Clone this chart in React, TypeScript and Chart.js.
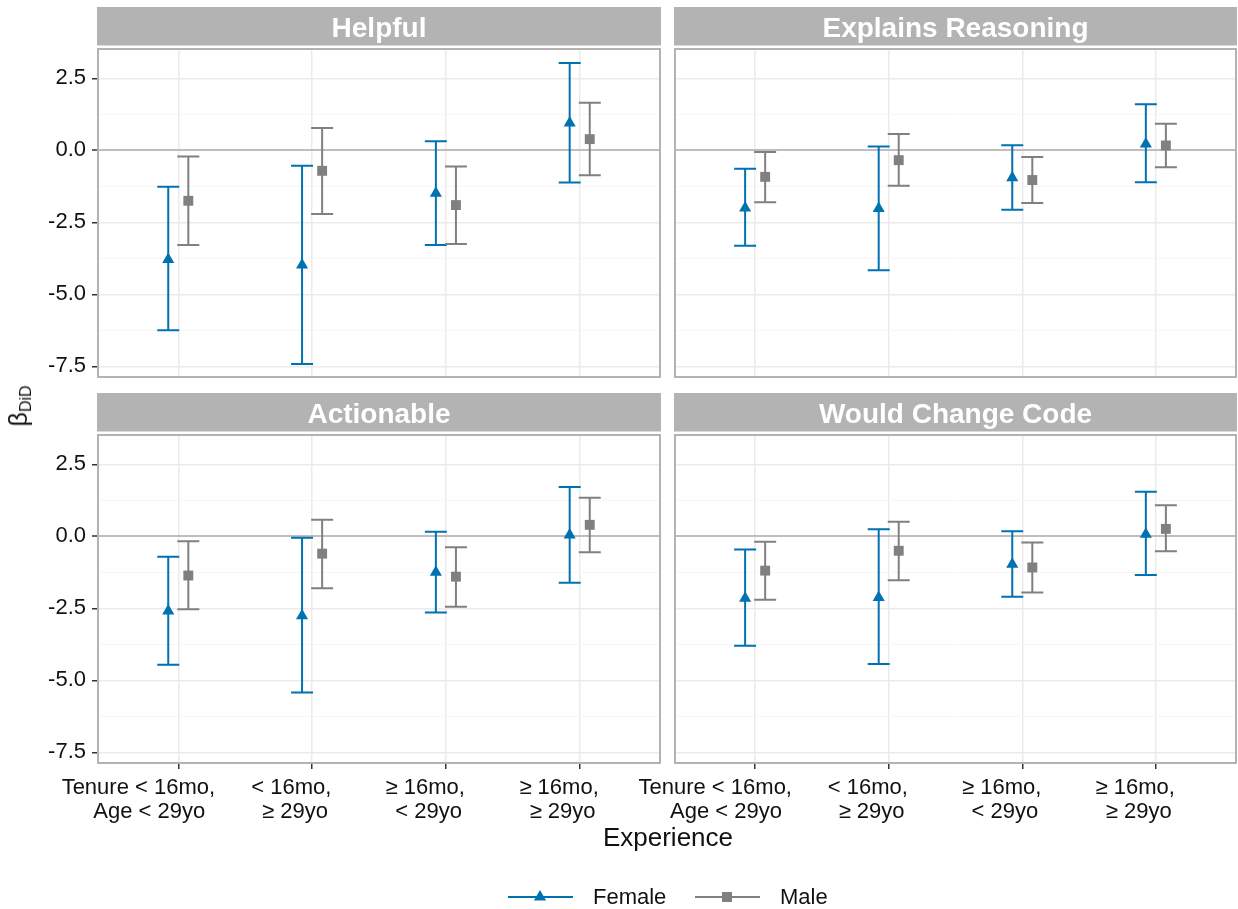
import React, { useEffect, useRef } from "react";
import { Chart, registerables } from "chart.js";

Chart.register(...registerables);

const FONT = "'Liberation Sans', Arial, Helvetica, sans-serif";
const BLUE = "#0072B2";
const GREY = "#808080";
const TEXT = "#111111";

// Categories (x axis)
const categoryPositions = [1, 2, 3, 4];
const categoryLabels = [
  ["Tenure < 16mo,", "Age < 29yo"],
  ["< 16mo,", "≥ 29yo"],
  ["≥ 16mo,", "< 29yo"],
  ["≥ 16mo,", "≥ 29yo"],
];
const dodge = 0.075;
const labelHjust = 0.76;

// Y axis
const yMin = -7.87;
const yMax = 3.52;
const yMajorTicks = [-7.5, -5, -2.5, 0, 2.5];
const yMajorLabels = ["-7.5", "-5.0", "-2.5", "0.0", "2.5"];
const yMinorTicks = [-6.25, -3.75, -1.25, 1.25];

// Helpful
const helpfulFemaleEst = [-3.79, -3.98, -1.49, 0.95];
const helpfulFemaleLo = [-6.25, -7.42, -3.29, -1.12];
const helpfulFemaleHi = [-1.26, -0.53, 0.32, 3.03];
const helpfulMaleEst = [-1.75, -0.71, -1.9, 0.39];
const helpfulMaleLo = [-3.29, -2.21, -3.25, -0.86];
const helpfulMaleHi = [-0.21, 0.78, -0.56, 1.65];

// Explains Reasoning
const reasoningFemaleEst = [-2.0, -2.02, -0.95, 0.22];
const reasoningFemaleLo = [-3.31, -4.16, -2.06, -1.11];
const reasoningFemaleHi = [-0.64, 0.13, 0.18, 1.6];
const reasoningMaleEst = [-0.92, -0.34, -1.03, 0.17];
const reasoningMaleLo = [-1.8, -1.23, -1.83, -0.59];
const reasoningMaleHi = [-0.06, 0.57, -0.23, 0.92];

// Actionable
const actionableFemaleEst = [-2.59, -2.76, -1.25, 0.05];
const actionableFemaleLo = [-4.46, -5.42, -2.64, -1.61];
const actionableFemaleHi = [-0.71, -0.05, 0.16, 1.71];
const actionableMaleEst = [-1.36, -0.6, -1.4, 0.4];
const actionableMaleLo = [-2.53, -1.8, -2.44, -0.55];
const actionableMaleHi = [-0.17, 0.58, -0.38, 1.34];

// Would Change Code
const changeFemaleEst = [-2.15, -2.12, -0.97, 0.07];
const changeFemaleLo = [-3.8, -4.43, -2.1, -1.34];
const changeFemaleHi = [-0.46, 0.25, 0.18, 1.55];
const changeMaleEst = [-1.19, -0.5, -1.08, 0.26];
const changeMaleLo = [-2.2, -1.52, -1.95, -0.52];
const changeMaleHi = [-0.19, 0.51, -0.21, 1.08];

const yGridValues = [...yMajorTicks, ...yMinorTicks].sort((a, b) => a - b);
const isMajor = (v: number) => yMajorTicks.indexOf(v) >= 0;

type PanelProps = {
  title: string;
  fEst: number[]; fLo: number[]; fHi: number[];
  mEst: number[]; mLo: number[]; mHi: number[];
  left: number; top: number; width: number; height: number;
  padding: { top: number; right: number; bottom: number; left: number };
  showX: boolean; showY: boolean;
};

function Panel(p: PanelProps) {
  const ref = useRef<HTMLCanvasElement | null>(null);
  useEffect(() => {
    if (!ref.current) return;
    const bars = [
      { offset: -dodge, lo: p.fLo, hi: p.fHi, color: BLUE },
      { offset: dodge, lo: p.mLo, hi: p.mHi, color: GREY },
    ];
    const decor = {
      id: "panelDecor",
      beforeDraw(chart: any) {
        const { ctx, chartArea: a } = chart;
        ctx.save();
        const stripTop = a.top - 42;
        ctx.fillStyle = "#B3B3B3";
        ctx.fillRect(a.left - 1, stripTop, a.right - a.left + 2, 38.5);
        ctx.fillStyle = "#FFFFFF";
        ctx.font = `bold 28px ${FONT}`;
        ctx.textAlign = "center";
        ctx.textBaseline = "alphabetic";
        ctx.fillText(p.title, (a.left + a.right) / 2, stripTop + 29.5);
        ctx.restore();
      },
      beforeDatasetsDraw(chart: any) {
        const { ctx } = chart;
        const xs = chart.scales.x;
        const ys = chart.scales.y;
        ctx.save();
        ctx.lineWidth = 2;
        for (const b of bars) {
          ctx.strokeStyle = b.color;
          categoryPositions.forEach((pos, i) => {
            const x = xs.getPixelForValue(pos + b.offset);
            const y1 = ys.getPixelForValue(b.lo[i]);
            const y2 = ys.getPixelForValue(b.hi[i]);
            ctx.beginPath();
            ctx.moveTo(x, y1);
            ctx.lineTo(x, y2);
            ctx.moveTo(x - 11, y1);
            ctx.lineTo(x + 11, y1);
            ctx.moveTo(x - 11, y2);
            ctx.lineTo(x + 11, y2);
            ctx.stroke();
          });
        }
        ctx.restore();
      },
      afterDraw(chart: any) {
        const { ctx, chartArea: a } = chart;
        ctx.save();
        ctx.strokeStyle = "#B3B3B3";
        ctx.lineWidth = 2;
        ctx.strokeRect(a.left, a.top, a.right - a.left, a.bottom - a.top);
        if (p.showX) {
          const xs = chart.scales.x;
          ctx.font = `22px ${FONT}`;
          ctx.fillStyle = TEXT;
          ctx.textAlign = "left";
          ctx.textBaseline = "alphabetic";
          categoryPositions.forEach((pos, i) => {
            const px = xs.getPixelForValue(pos);
            categoryLabels[i].forEach((line, j) => {
              const w = ctx.measureText(line).width;
              ctx.fillText(line, px - labelHjust * w, a.bottom + 31.3 + j * 24);
            });
          });
        }
        ctx.restore();
      },
    };

    const chart = new Chart(ref.current, {
      type: "scatter",
      data: {
        datasets: [
          {
            label: "Female",
            data: categoryPositions.map((pos, i) => ({ x: pos - dodge, y: p.fEst[i] })),
            pointStyle: "triangle",
            pointRadius: 7,
            backgroundColor: BLUE,
            borderColor: BLUE,
            borderWidth: 0,
            showLine: false,
          },
          {
            label: "Male",
            data: categoryPositions.map((pos, i) => ({ x: pos + dodge, y: p.mEst[i] })),
            pointStyle: "rect",
            pointRadius: 7,
            backgroundColor: GREY,
            borderColor: GREY,
            borderWidth: 0,
            showLine: false,
          },
        ],
      },
      options: {
        animation: false,
        responsive: false,
        maintainAspectRatio: false,
        devicePixelRatio: 1,
        events: [],
        layout: { padding: p.padding, autoPadding: false },
        plugins: { legend: { display: false }, tooltip: { enabled: false }, title: { display: false } },
        scales: {
          x: {
            type: "linear",
            min: 0.4,
            max: 4.6,
            afterBuildTicks: (s: any) => {
              s.ticks = categoryPositions.map((v) => ({ value: v }));
            },
            afterFit: (s: any) => {
              s.height = p.showX ? 80 : 0;
              s.paddingLeft = 0;
              s.paddingRight = 0;
            },
            border: { display: false },
            grid: {
              color: "#EBEBEB",
              lineWidth: 1.5,
              drawTicks: p.showX,
              tickLength: 6,
              tickColor: "#333333",
              tickWidth: 1.5,
            },
            ticks: { display: false },
          },
          y: {
            type: "linear",
            min: yMin,
            max: yMax,
            afterBuildTicks: (s: any) => {
              s.ticks = yGridValues.map((v) => ({ value: v }));
            },
            afterFit: (s: any) => {
              s.width = p.showY ? 98 : 0;
              s.paddingTop = 0;
              s.paddingBottom = 0;
            },
            border: { display: false },
            grid: {
              color: (c: any) => {
                const v = c.tick?.value;
                if (v === 0) return "#BEBEBE";
                return isMajor(v) ? "#EBEBEB" : "#F5F5F5";
              },
              lineWidth: (c: any) => {
                const v = c.tick?.value;
                if (v === 0) return 2;
                return isMajor(v) ? 1.5 : 0.9;
              },
              drawTicks: p.showY,
              tickLength: 6,
              tickColor: (c: any) => (isMajor(c.tick?.value) ? "#333333" : "rgba(0,0,0,0)"),
              tickWidth: 1.5,
            },
            ticks: {
              display: p.showY,
              padding: 6,
              color: TEXT,
              font: { family: FONT, size: 22 },
              callback: (v: any) => {
                const idx = yMajorTicks.indexOf(Number(v));
                return idx >= 0 ? yMajorLabels[idx] : "";
              },
            },
          },
        },
      },
      plugins: [decor],
    } as any);
    return () => chart.destroy();
  }, []);
  return (
    <canvas
      ref={ref}
      width={p.width}
      height={p.height}
      style={{ position: "absolute", left: p.left, top: p.top, width: p.width, height: p.height }}
    />
  );
}

export default function App() {
  return (
    <div
      style={{
        position: "absolute",
        left: 0,
        top: 0,
        width: 1238,
        height: 909,
        background: "#FFFFFF",
        fontFamily: FONT,
        color: TEXT,
        overflow: "hidden",
      }}
    >
      <Panel
        title="Helpful"
        fEst={helpfulFemaleEst} fLo={helpfulFemaleLo} fHi={helpfulFemaleHi}
        mEst={helpfulMaleEst} mLo={helpfulMaleLo} mHi={helpfulMaleHi}
        left={0} top={0} width={662} height={380}
        padding={{ top: 49, right: 2, bottom: 3, left: 0 }}
        showX={false} showY={true}
      />
      <Panel
        title="Explains Reasoning"
        fEst={reasoningFemaleEst} fLo={reasoningFemaleLo} fHi={reasoningFemaleHi}
        mEst={reasoningMaleEst} mLo={reasoningMaleLo} mHi={reasoningMaleHi}
        left={600} top={0} width={638} height={380}
        padding={{ top: 49, right: 2, bottom: 3, left: 75 }}
        showX={false} showY={false}
      />
      <Panel
        title="Actionable"
        fEst={actionableFemaleEst} fLo={actionableFemaleLo} fHi={actionableFemaleHi}
        mEst={actionableMaleEst} mLo={actionableMaleLo} mHi={actionableMaleHi}
        left={0} top={380} width={662} height={463}
        padding={{ top: 55, right: 2, bottom: 0, left: 0 }}
        showX={true} showY={true}
      />
      <Panel
        title="Would Change Code"
        fEst={changeFemaleEst} fLo={changeFemaleLo} fHi={changeFemaleHi}
        mEst={changeMaleEst} mLo={changeMaleLo} mHi={changeMaleHi}
        left={600} top={380} width={638} height={463}
        padding={{ top: 55, right: 2, bottom: 0, left: 75 }}
        showX={true} showY={false}
      />

      <div
        style={{
          position: "absolute",
          left: 22,
          top: 406,
          transform: "translate(-50%, -50%) rotate(-90deg)",
          whiteSpace: "nowrap",
          fontSize: 25,
          lineHeight: "28px",
        }}
      >
        β<span style={{ fontSize: 16, verticalAlign: "-0.25em" }}>DiD</span>
      </div>

      <div
        style={{
          position: "absolute",
          left: 518,
          width: 300,
          top: 822,
          textAlign: "center",
          fontSize: 26,
          lineHeight: "30px",
        }}
      >
        Experience
      </div>

      <svg
        width={300}
        height={34}
        style={{ position: "absolute", left: 500, top: 880 }}
        viewBox="0 0 300 34"
      >
        <line x1={8} y1={17} x2={73} y2={17} stroke={BLUE} strokeWidth={2} />
        <polygon points="40,10 46.1,20.5 33.9,20.5" fill={BLUE} />
        <line x1={195} y1={17} x2={260} y2={17} stroke={GREY} strokeWidth={2} />
        <rect x={222} y={12} width={10} height={10} fill={GREY} />
      </svg>
      <div style={{ position: "absolute", left: 593, top: 884, fontSize: 22, lineHeight: "26px" }}>Female</div>
      <div style={{ position: "absolute", left: 780, top: 884, fontSize: 22, lineHeight: "26px" }}>Male</div>
    </div>
  );
}
